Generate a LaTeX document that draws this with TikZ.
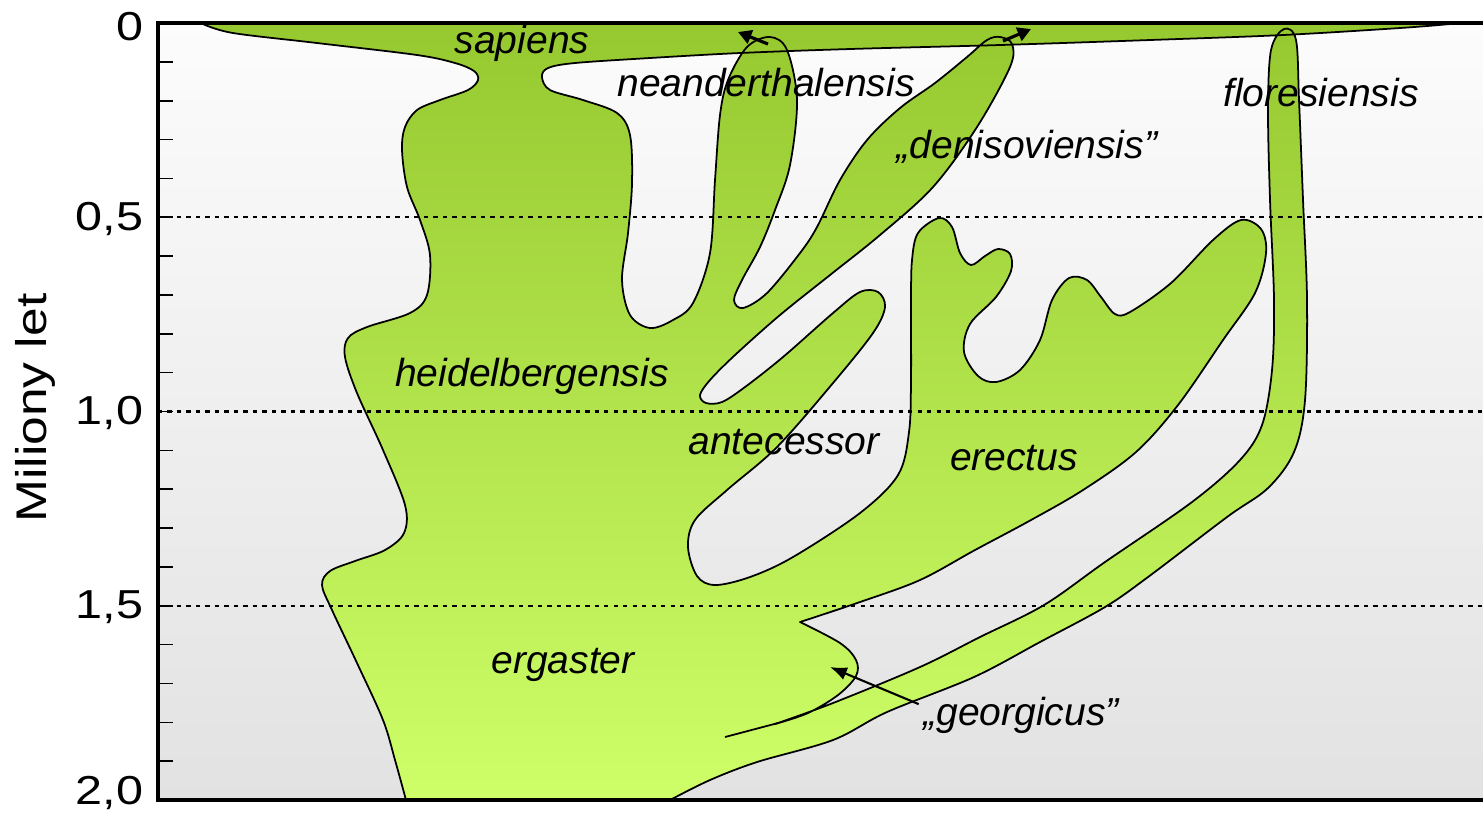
\documentclass[tikz,border=0pt]{standalone}
\usepackage{fontspec}
\setmainfont{Liberation Sans}
\newfontfamily\axisfont[FakeStretch=1.2]{Liberation Sans}
\usetikzlibrary{arrows.meta}
\definecolor{hmnGreenTop}{HTML}{96C830}
\definecolor{hmnGreenBot}{HTML}{CEFF68}
\definecolor{hmnBgTop}{HTML}{FCFCFC}
\definecolor{hmnBgBot}{HTML}{E2E2E2}
\tikzset{
  lineage/.style={draw=black, line width=0.5pt, line join=round,
    top color=hmnGreenTop, bottom color=hmnGreenBot},
  outline/.style={draw=black, line width=0.5pt},
  plotframe/.style={draw=black, line width=1.1pt},
  tickmark/.style={draw=black, line width=0.45pt},
  agegrid/.style={draw=black, line width=0.6pt, dash pattern=on 1.2pt off 1.5pt},
  taxon/.style={font=\fontsize{11.1}{13}\selectfont\itshape, inner sep=0pt},
  agelabel/.style={font=\axisfont\fontsize{11.5}{13}\selectfont, anchor=east, inner sep=0pt},
  axistitle/.style={font=\axisfont\fontsize{12.2}{14}\selectfont, rotate=90, inner sep=0pt},
  tiparrow/.style={draw=black, line width=0.9pt, -{Triangle[length=3.8pt,width=4pt]}},
  pointer/.style={draw=black, line width=0.6pt, -{Latex[length=4.8pt,width=3.8pt]}},
}

\begin{document}
\begin{tikzpicture}[x=0.01cm, y=-0.01cm]
\useasboundingbox (0,0) rectangle (1483,823);
\path[top color=hmnBgTop, bottom color=hmnBgBot] (158,23) rectangle (1483,800);

\path[lineage] (203,24) -- (1450,24)
  -- plot[smooth, tension=0.55] coordinates {(1450,24) (1400,28) (1283,35) (1150,40) (1000,45)
     (850,49) (740,53) (650,58) (575,63) (548,68) (542,77) (550,90) (583,100) (617,113)
     (630,135) (632,183) (628,233) (622,280) (630,315) (650,328) (673,320) (693,303)
     (710,253) (715,180) (720,115) (728,80) (747,47) (770,37) (787,50) (797,100) (790,165)
     (775,210) (760,247) (742,280) (734,300) (743,308) (767,293) (800,253) (817,227)
     (840,180) (867,140) (900,108) (935,83) (967,57) (987,40) (1000,37) (1012,44) (1010,67)
     (977,127) (933,187) (880,235) (830,275) (780,315) (735,355) (710,380) (700,395)
     (706,403) (722,402) (745,387) (783,357) (833,313) (860,292) (878,292) (885,307)
     (873,333) (833,383) (777,447) (727,490) (695,520) (688,547) (697,576) (715,585)
     (750,577) (793,557) (860,513) (898,475) (909,432) (911,380) (911,300) (912,260)
     (918,233) (939,218) (952,227) (960,253) (971,265) (985,256) (998,249) (1010,254)
     (1011,271) (996,297) (970,324) (964,352) (978,376) (996,382) (1020,370) (1040,340)
     (1052,300) (1069,278) (1087,280) (1101,297) (1115,314) (1130,312) (1171,283)
     (1213,240) (1241,220) (1261,229) (1266,253) (1255,293) (1223,340) (1178,405)
     (1136,452) (1083,490) (1031,520) (975,550) (920,580) (860,602) (800,622)}
  -- plot[smooth, tension=0.55] coordinates {(800,622) (840,643) (856,660) (856,676)
     (838,695) (808,713) (775,724)}
  -- plot[smooth, tension=0.55] coordinates {(775,724) (833,703) (920,667) (980,637)
     (1044,605) (1105,562) (1192,502) (1240,460) (1262,425) (1272,370) (1274,300)
     (1270,200) (1268,110) (1271,50) (1284,29) (1296,40) (1299,100) (1303,200) (1307,300)
     (1305,400) (1294,452) (1268,488) (1227,517) (1148,577) (1105,607) (1040,642)
     (974,677) (887,712) (833,740) (757,762) (710,780) (670,800)}
  -- (406,800)
  -- plot[smooth, tension=0.55] coordinates {(406,800) (395,760) (383,720) (357,663)
     (332,610) (322,585) (330,571) (355,561) (385,550) (404,533) (405,505) (383,450)
     (357,393) (345,357) (348,338) (367,327) (410,313) (427,295) (430,255) (420,220)
     (407,187) (402,150) (405,127) (417,110) (440,100) (468,90) (478,80) (474,71)
     (455,63) (417,55) (317,43) (233,33) (203,24)}
  -- cycle;
\draw[outline] (725,737) -- (778,723);

\foreach \k in {5,10,15}
  \draw[agegrid] (158,{23+38.85*\k}) -- (1483,{23+38.85*\k});
\foreach \k in {1,...,19}
  \draw[tickmark] (158,{23+38.85*\k}) -- ++(15,0);
\draw[plotframe] (1483,23) -- (158,23) -- (158,800) -- (1483,800);

\foreach \y/\txt [count=\i] in {27/0, 219/{0,5}, 413/{1,0}, 607/{1,5}, 793/{2,0}}
  \node[agelabel] (age\i) at (144,\y) {\txt};
\node[axistitle] (axis) at (35,408) {Miliony let};

\node[taxon] (sap) at (522,43) {sapiens};
\node[taxon] (nea) at (766,83) {neanderthalensis};
\node[taxon] (den) at (1027,147) {„denisoviensis”};
\node[taxon] (flo) at (1321,93) {floresiensis};
\node[taxon] (hei) at (532,376) {heidelbergensis};
\node[taxon] (ant) at (784,442) {antecessor};
\node[taxon] (ere) at (1014,458) {erectus};
\node[taxon] (erg) at (563,665) {ergaster};
\node[taxon] (geo) at (1021,715) {„georgicus”};

\coordinate (neaTip) at (768,44);
\coordinate (neaOut) at (738,32);
\coordinate (denTip) at (1003,41);
\coordinate (denOut) at (1031,29);
\coordinate (geoLobe) at (830,667);
\draw[tiparrow] (neaTip) -- (neaOut);
\draw[tiparrow] (denTip) -- (denOut);
\draw[pointer] ([shift={(-4,8)}]geo.north west) -- (geoLobe);

\end{tikzpicture}
\end{document}
